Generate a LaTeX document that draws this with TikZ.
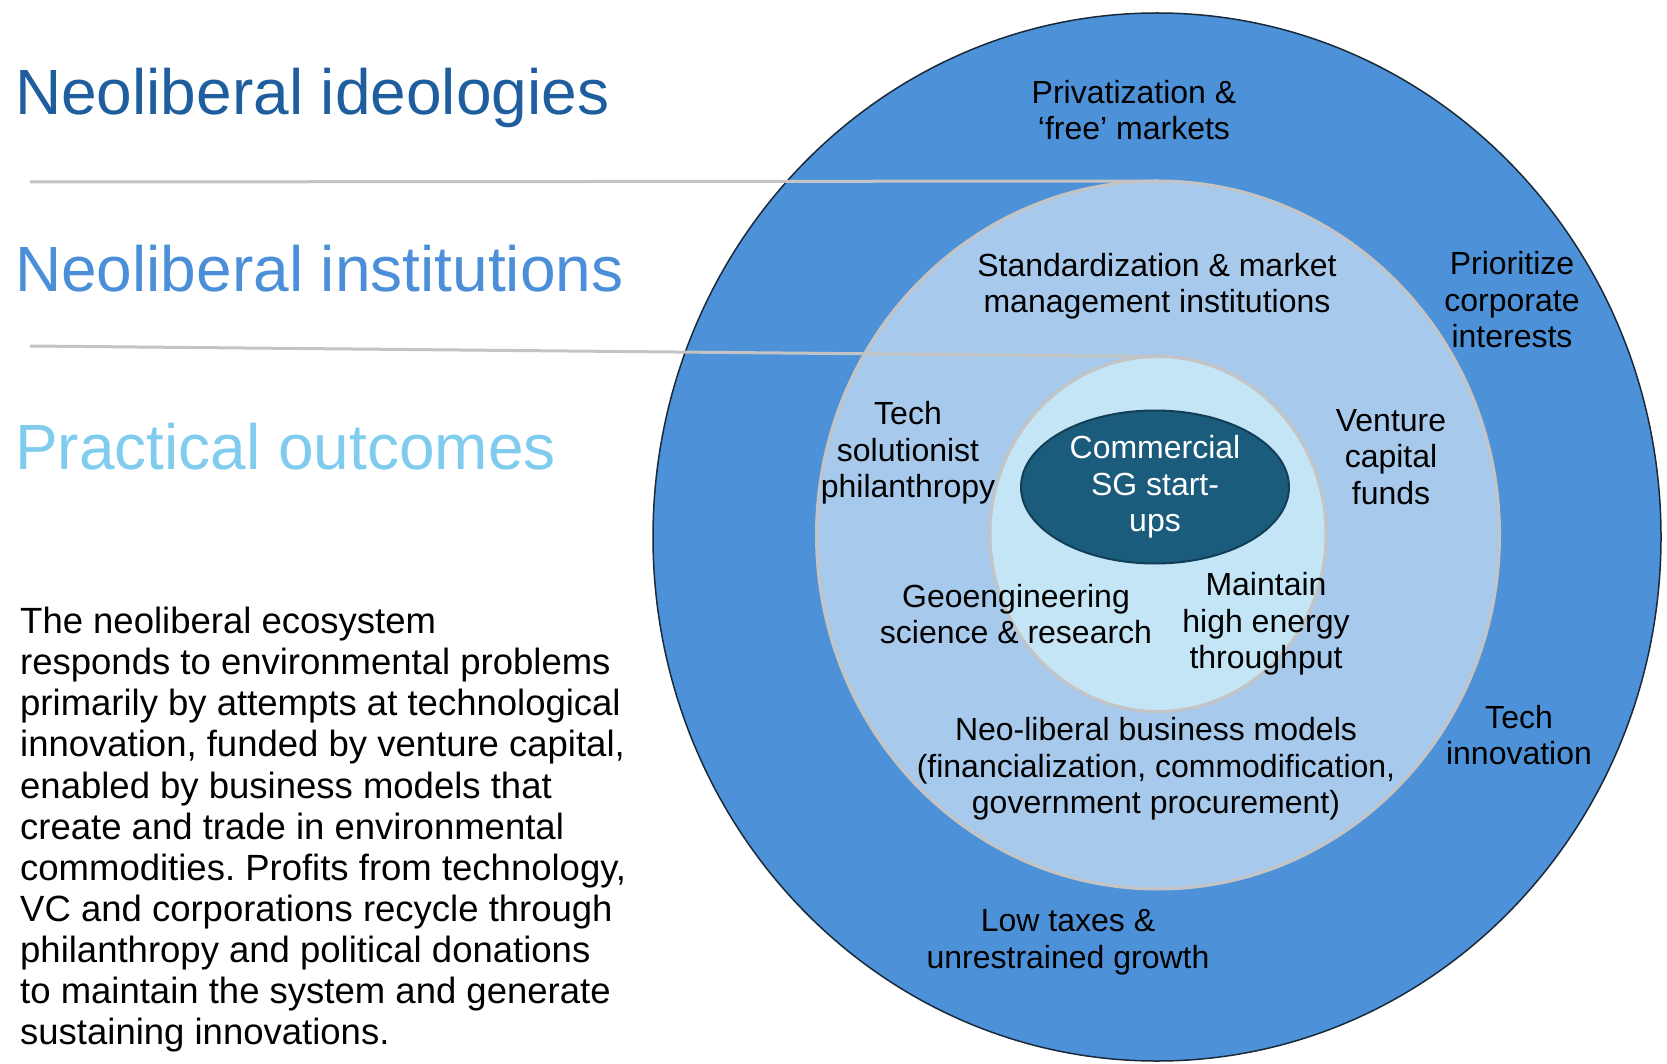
\documentclass[tikz,border=0pt]{standalone}
\usepackage{fontspec}
\setmainfont{Liberation Sans}
\usetikzlibrary{shapes.geometric}
\definecolor{outerblue}{HTML}{4D92D8}
\definecolor{outerline}{HTML}{1A2A3A}
\definecolor{midblue}{HTML}{A7C9EC}
\definecolor{innerblue}{HTML}{C3E5F5}
\definecolor{ringgray}{HTML}{C4C4C4}
\definecolor{coreblue}{HTML}{1B5B7C}
\definecolor{coreline}{HTML}{123F57}
\definecolor{headA}{HTML}{1F5E9E}
\definecolor{headB}{HTML}{4B8FD9}
\definecolor{headC}{HTML}{80CCEE}
\frenchspacing
\begin{document}
\begin{tikzpicture}[x=1pt,y=-1pt,
  ring/.style={ellipse, inner sep=0pt, outer sep=0pt},
  lab/.style={font=\fontsize{32}{36.5}\selectfont, align=center, inner sep=0pt, text=black},
  head/.style={font=\fontsize{64}{70}\selectfont, anchor=base west, inner sep=0pt},
  sepline/.style={draw=ringgray, line width=3pt}]
\useasboundingbox[fill=white] (0,0) rectangle (1667,1064);

% rings
\node[ring, fill=outerblue, draw=outerline, line width=1.5pt, minimum width=1008pt, minimum height=1048pt] (outer) at (1157,537) {};
\node[ring, fill=midblue, draw=ringgray, line width=3pt, minimum width=683pt, minimum height=708pt] (mid) at (1158,535) {};
\node[ring, fill=innerblue, draw=ringgray, line width=3pt, minimum width=336pt, minimum height=355pt] (inner) at (1158,534) {};
\node[ring, fill=coreblue, draw=coreline, line width=2pt, minimum width=268pt, minimum height=153pt, text=white, font=\fontsize{32}{36.5}\selectfont, align=center] (core) at (1155,487) {Commercial\\SG start-\\ups};

% separator lines
\coordinate (l1) at (30,182);
\coordinate (l2) at (30,346);
\draw[sepline] (l1) -- (mid.north);
\draw[sepline] (l2) -- (inner.north);

% headings
\node[head, text=headA] (h1) at (15,115) {Neoliberal ideologies};
\node[head, text=headB] (h2) at (15,292) {Neoliberal institutions};
\node[head, text=headC] (h3) at (15,469) {Practical outcomes};

% body text
\node[anchor=north west, align=left, inner sep=0pt, font=\fontsize{36.5}{41.1}\selectfont] (body) at (20,607)
{The neoliberal ecosystem\\
responds to environmental problems\\
primarily by attempts at technological\\
innovation, funded by venture capital,\\
enabled by business models that\\
create and trade in environmental\\
commodities. Profits from technology,\\
VC and corporations recycle through\\
philanthropy and political donations\\
to maintain the system and generate\\
sustaining innovations.};

% ring labels
\node[lab] (priv) at (1134,110) {Privatization \&\\‘free’ markets};
\node[lab] (prio) at (1512,300) {Prioritize\\corporate\\interests};
\node[lab] (stand) at (1157,286) {Standardization \& market\\management institutions};
\node[lab] (techsol) at (908,453) {Tech\\solutionist\\philanthropy};
\node[lab] (venture) at (1391,457) {Venture\\capital\\funds};
\node[lab] (geo) at (1016,614) {Geoengineering\\science \& research};
\node[lab] (maint) at (1266,624) {Maintain\\high energy\\throughput};
\node[lab] (neo) at (1156,769) {Neo-liberal business models\\(financialization, commodification,\\government procurement)};
\node[lab] (techinn) at (1519,735) {Tech\\innovation};
\node[lab] (low) at (1068,942) {Low taxes \&\\unrestrained growth};
\end{tikzpicture}
\end{document}
